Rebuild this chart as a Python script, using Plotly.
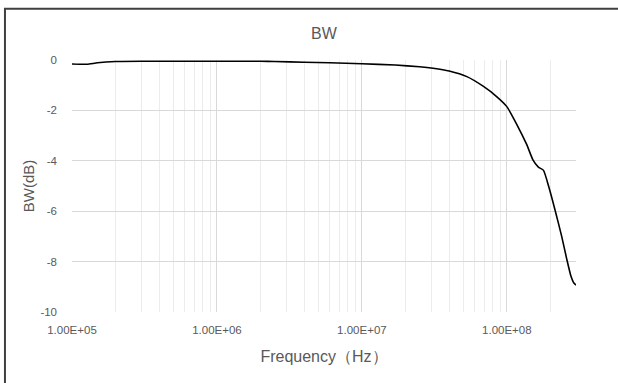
import math
import plotly.graph_objects as go

# Data
freq_hz = [1.0e5, 1.27e5, 1.5e5, 2.0e5, 3.0e5, 5.0e5, 1.0e6, 2.0e6, 2.5e6, 4.0e6,
           6.0e6, 1.0e7, 1.7e7, 2.5e7, 3.1e7, 4.0e7, 5.3e7, 6.9e7, 8.5e7, 1.0e8,
           1.17e8, 1.37e8, 1.51e8, 1.65e8, 1.79e8, 1.94e8, 2.15e8, 2.39e8, 2.59e8,
           2.76e8, 2.9e8, 3.0e8]
bw_db = [-0.16, -0.17, -0.11, -0.06, -0.05, -0.05, -0.05, -0.05, -0.06, -0.09,
         -0.11, -0.15, -0.20, -0.27, -0.33, -0.44, -0.66, -1.05, -1.45, -1.85,
         -2.55, -3.35, -3.95, -4.25, -4.38, -5.0, -5.95, -7.0, -7.9,
         -8.55, -8.85, -8.93]

x_tickvals = [1e5, 1e6, 1e7, 1e8]
x_ticktext = ["1.00E+05", "1.00E+06", "1.00E+07", "1.00E+08"]
y_tickvals = [0, -2, -4, -6, -8, -10]
y_ticktext = ["0", "-2", "-4", "-6", "-8", "-10"]

title_text = "BW"
x_title = "Frequency\uff08Hz\uff09"
y_title = "BW(dB)"

txt = "#595959"
font_fam = "Liberation Sans, Arial, sans-serif"

fig = go.Figure()
fig.add_trace(go.Scatter(
    x=freq_hz, y=bw_db, mode="lines",
    line=dict(color="black", width=1.6, shape="spline", smoothing=0.5),
    showlegend=False, hoverinfo="skip",
))

fig.update_layout(
    width=618, height=383,
    margin=dict(l=72, r=42, t=60, b=71),
    paper_bgcolor="white", plot_bgcolor="white",
    font=dict(family=font_fam, color=txt),
    title=dict(text=title_text, x=0.5, xref="paper", xanchor="center",
               y=1 - 33 / 383, yanchor="middle", font=dict(size=16, color=txt)),
    xaxis=dict(
        type="log", range=[5, math.log10(3e8)],
        tickmode="array", tickvals=x_tickvals, ticktext=x_ticktext,
        tickfont=dict(size=11.5, color=txt),
        showgrid=True, gridcolor="#d9d9d9", gridwidth=1,
        minor=dict(dtick="D1", showgrid=True, gridcolor="#ececec", gridwidth=1, ticks=""),
        showline=False, zeroline=False, ticks="", ticklabelstandoff=9,
        title=dict(text=x_title, font=dict(size=16, color=txt), standoff=16),
    ),
    yaxis=dict(
        range=[-10, 0], tickmode="array", tickvals=y_tickvals, ticktext=y_ticktext,
        tickfont=dict(size=11.5, color=txt),
        showgrid=True, gridcolor="#d9d9d9", gridwidth=1,
        showline=False, zeroline=False, ticks="", ticklabelstandoff=14,
        title=dict(text=y_title, font=dict(size=15, color=txt), standoff=2),
    ),
    shapes=[dict(
        type="path", xref="paper", yref="paper",
        path="M -0.133 -0.5 L -0.133 1.203 L 1.2 1.203",
        line=dict(color="#404040", width=2),
    )],
)

fig.write_html("out.html", config={"displayModeBar": False},
               post_script="document.body.style.margin='0px';")
